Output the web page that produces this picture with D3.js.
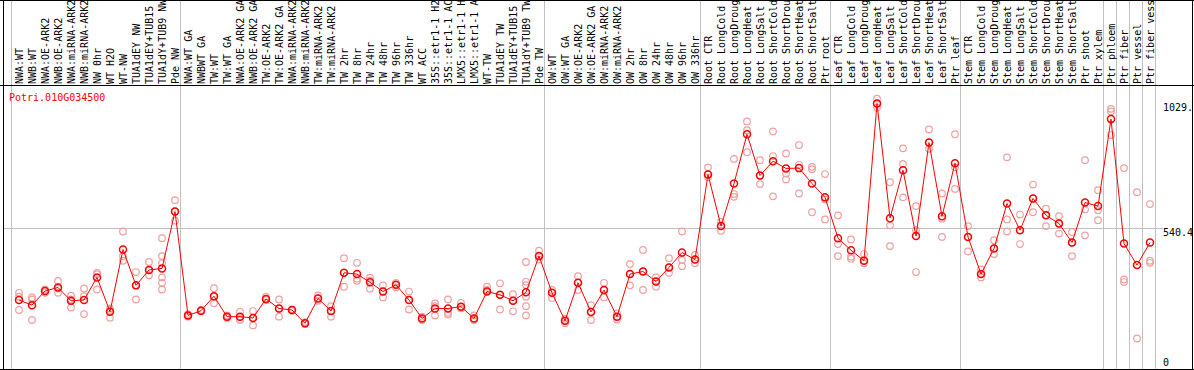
<!DOCTYPE html>
<html>
<head>
<meta charset="utf-8">
<script src="https://cdn.jsdelivr.net/npm/d3@7"></script>
<style>
  body { margin: 0; background: #fff; }
  text { font-family: "DejaVu Sans Mono", monospace; font-size: 10px; }
</style>
</head>
<body>
<div id="chart"></div>
<script>
const WIDTH = 1194, HEIGHT = 370;

const gene = "Potri.010G034500";

const categories = [
  "NWA:WT","NWB:WT","NWA:OE-ARK2","NWB:OE-ARK2","NWA:miRNA-ARK2","NWB:miRNA-ARK2","NW 0hr","WT H2O","WT-NW",
  "TUA1dEY NW","TUA1dEY+TUB15","TUA1dY+TUB9 NW","Pde NW",
  "NWA:WT GA","NWBWT GA","TW:WT","TW:WT GA","NWA:OE-ARK2 GA","NWB:OE-ARK2 GA","TW:OE-ARK2","TW:OE-ARK2 GA",
  "NWA:miRNA-ARK2","NWB:miRNA-ARK2","TW:miRNA-ARK2","TW:miRNA-ARK2","TW 2hr","TW 8hr","TW 24hr","TW 48hr",
  "TW 96hr","TW 336hr","WT ACC","35S::etr1-1 H2","35S::etr1-1 AC","LMX5::etr1-1 H","LMX5::etr1-1 A",
  "WT-TW","TUA1dEY TW","TUA1dEY+TUB15","TUA1dY+TUB9 TW","Pde TW",
  "OW:WT","OW:WT GA","OW:OE-ARK2","OW:OE-ARK2 GA","OW:miRNA-ARK2","OW:miRNA-ARK2","OW 2hr","OW 8hr",
  "OW 24hr","OW 48hr","OW 96hr","OW 336hr",
  "Root CTR","Root LongCold","Root LongDroug","Root LongHeat","Root LongSalt","Root ShortCold",
  "Root ShortDrou","Root ShortHeat","Root ShortSalt","Ptr root",
  "Leaf CTR","Leaf LongCold","Leaf LongDroug","Leaf LongHeat","Leaf LongSalt","Leaf ShortCold",
  "Leaf ShortDrou","Leaf ShortHeat","Leaf ShortSalt","Ptr leaf",
  "Stem CTR","Stem LongCold","Stem LongDroug","Stem LongHeat","Stem LongSalt","Stem ShortCold",
  "Stem ShortDrou","Stem ShortHeat","Stem ShortSalt","Ptr shoot","Ptr xylem",
  "Ptr phloem","Ptr fiber","Ptr vessel","Ptr fiber vess"
];

// index of first category of each group (separator lines)
const groupStarts = [0, 13, 41, 53, 63, 73, 84, 85, 86, 87];

const means = [
  260,240,295,309,257,260,348,214,457,317,377,383,605,
  200,218,275,195,195,190,264,227,221,169,266,217,366,361,329,293,319,260,188,227,227,234,188,293,280,257,290,431,
  288,179,327,213,299,195,361,371,332,387,445,418,
  749,548,714,906,745,801,773,774,714,660,
  501,454,413,1026,579,766,509,874,586,793,
  506,361,461,636,532,656,590,558,484,640,626,
  965,480,396,484
];

const reps = [
  [288,273,221],[270,262,182],[301,295,288],[334,305,288],[277,262,231],[305,275,205],[366,361,301],
  [227,221,191],[527,431,413],[369,317,262],[408,377,356],[501,431,403,348,327,301],[649,605,569],
  [205,200,195],[221,218,216],[306,273,247],[200,195,190],[214,192,182],[217,190,161],[273,264,260],
  [262,226,195],[223,221,218],[174,169,166],[278,266,257],[236,217,195],[423,366,312],[405,343,335],
  [347,335,304],[317,293,270],[327,319,309],[293,260,223],[195,188,182],[247,236,200],[262,210,203],
  [249,234,227],[200,188,182],[312,299,293],[325,280,223],[283,257,216],[408,331,318,273,236,200],
  [452,431,418],
  [299,288,268],[187,179,169],[353,327,299],[240,213,182],[327,299,270],[208,195,184],[400,361,317],
  [455,371,299],[348,332,312],[423,387,366],[527,416,392],[436,418,403],
  [777,749,738],[564,548,530],[810,673,662],[956,922,836],[805,745,712],[917,821,664],[831,753,730],
  [864,787,675],[779,770,602],[751,652,574],
  [590,478,431],[496,429,421],[439,413,403],[1045,1026,1010],[719,551,470],[851,790,660],[626,532,369],
  [925,874,849],[675,577,506],[906,777,693],
  [548,506,449],[379,361,348],[493,461,439],[816,574,527],[593,532,478],[710,656,602],[616,590,548],
  [587,558,519],[525,484,431],[805,613,512],[688,610,571],
  [1005,995,903],[774,340,330],[680,110],[634,413,405]
];

const tickValues = [0, 540.4, 1029.4];
const tickLabels = ["0", "540.4", "1029."];

const svg = d3.select("#chart").append("svg")
  .attr("width", WIDTH).attr("height", HEIGHT)
  .style("display", "block");

svg.append("rect").attr("width", WIDTH).attr("height", HEIGHT).attr("fill", "#fff");

const x = d3.scaleBand().domain(d3.range(categories.length)).range([11, 11 + 13 * categories.length]);
const cx = i => x(i) + 8;
const y = d3.scaleLinear().domain([0, 1029.4]).range([366.7, 102.6]);

// vertical group separators
const seps = groupStarts.map(k => x(k)).concat([x.range()[1]]);
svg.append("g").selectAll("line").data(seps).join("line")
  .attr("x1", d => d + 0.5).attr("x2", d => d + 0.5)
  .attr("y1", 0).attr("y2", 369)
  .attr("stroke", "#c0c0c0");

// mid gridline
svg.append("line")
  .attr("x1", 3).attr("x2", 1163)
  .attr("y1", Math.round(y(540.4)) + 0.5).attr("y2", Math.round(y(540.4)) + 0.5)
  .attr("stroke", "#c0c0c0");

// category labels
svg.append("g").selectAll("text").data(categories).join("text")
  .attr("transform", (d, i) => `translate(${cx(i)},84) rotate(-90)`)
  .attr("dy", "0.35em")
  .attr("fill", "#000")
  .text(d => d);

// frame
const frame = svg.append("g").attr("stroke", "#000").attr("stroke-width", 1);
frame.append("line").attr("x1", 0).attr("x2", WIDTH).attr("y1", 0.5).attr("y2", 0.5);
frame.append("line").attr("x1", 0).attr("x2", WIDTH).attr("y1", 85.5).attr("y2", 85.5);
frame.append("line").attr("x1", 0).attr("x2", WIDTH).attr("y1", 369.5).attr("y2", 369.5);
frame.append("line").attr("x1", 3.5).attr("x2", 3.5).attr("y1", 0).attr("y2", HEIGHT);

// y tick labels
svg.append("g").selectAll("text").data(tickValues).join("text")
  .attr("x", 1163)
  .attr("y", d => Math.min(y(d) + 8, 366))
  .attr("fill", "#000")
  .text((d, i) => tickLabels[i]);

frame.append("line").attr("x1", 1192.5).attr("x2", 1192.5).attr("y1", 0).attr("y2", HEIGHT);

// gene title
svg.append("text").attr("x", 9).attr("y", 101).attr("fill", "#ff0000").text(gene);

// replicate points
const repPts = reps.flatMap((r, i) => r.map(v => ({ i, v })));
svg.append("g").selectAll("circle").data(repPts).join("circle")
  .attr("cx", d => cx(d.i)).attr("cy", d => y(d.v))
  .attr("r", 3.3)
  .attr("fill", "none")
  .attr("stroke", "#f0a0a0")
  .attr("stroke-width", 1.2);

// mean line
const line = d3.line().x((d, i) => cx(i)).y(d => y(d));
svg.append("path").datum(means)
  .attr("d", line)
  .attr("fill", "none")
  .attr("stroke", "#ff0000")
  .attr("stroke-width", 1);

// mean points
svg.append("g").selectAll("circle").data(means).join("circle")
  .attr("cx", (d, i) => cx(i)).attr("cy", d => y(d))
  .attr("r", 3.5)
  .attr("fill", "none")
  .attr("stroke", "#ff0000")
  .attr("stroke-width", 1.5);
</script>
</body>
</html>
